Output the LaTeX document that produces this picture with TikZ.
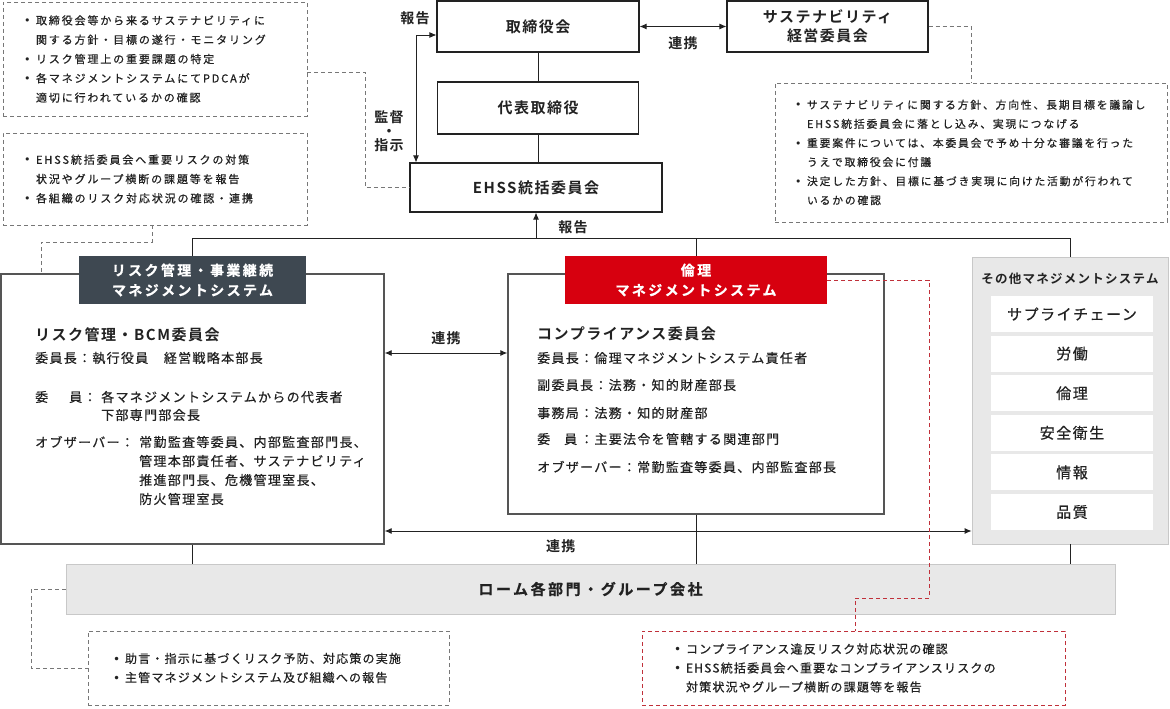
\documentclass[tikz,border=0pt]{standalone}
\usepackage{fontspec}
\setmainfont{Noto Sans CJK JP}[BoldFont={Noto Sans CJK JP Bold}]
\newfontfamily\jpa{Noto Sans CJK JP}[LetterSpace=10,BoldFont={Noto Sans CJK JP Bold}]
\newfontfamily\jpm{Noto Sans CJK JP}[LetterSpace=10,FakeBold=0.6]
\newfontfamily\jpb{Noto Sans CJK JP}[LetterSpace=17,FakeBold=0.6,BoldFont={Noto Sans CJK JP Bold}]
\newfontfamily\dotfont{DejaVu Sans}
\usetikzlibrary{arrows.meta}

\definecolor{ink}{HTML}{222222}
\definecolor{sysline}{HTML}{555555}
\definecolor{slate}{HTML}{3E4851}
\definecolor{ethred}{HTML}{D7000F}
\definecolor{panel}{HTML}{E8E8E8}
\definecolor{panelline}{HTML}{C8C8C8}
\definecolor{dashgray}{HTML}{777777}
\definecolor{dashred}{HTML}{C0303A}

\newcommand{\itm}{\makebox[12pt][l]{\dotfont\textbullet}}
\newcommand{\cont}{\hspace*{12pt}}

\tikzset{
  unit/.style={draw=ink, line width=1.1pt, fill=white, text=ink, align=center,
    inner sep=0pt, font=\jpa\bfseries\fontsize{15}{19}\selectfont},
  sysbox/.style={draw=sysline, line width=1.4pt, fill=white, inner sep=0pt},
  syshead/.style={inner sep=0pt, text=white, align=center,
    font=\jpb\bfseries\fontsize{14}{20}\selectfont},
  panelbox/.style={draw=panelline, line width=0.8pt, fill=panel, inner sep=0pt},
  itembox/.style={fill=white, inner sep=0pt, minimum width=162, minimum height=36,
    text=ink, font=\jpm\fontsize{15}{18}\selectfont},
  note/.style={draw=dashgray, line width=0.8pt, dash pattern=on 4pt off 3pt,
    inner ysep=0pt, align=left, text=ink, font=\jpb\fontsize{11}{19.3}\selectfont},
  rednote/.style={note, draw=dashred},
  link/.style={draw=dashgray, line width=0.8pt, dash pattern=on 4pt off 3pt},
  redlink/.style={link, draw=dashred},
  wire/.style={draw=ink, line width=0.9pt},
  arr/.style={wire, {Latex[length=7pt,width=6pt]}-{Latex[length=7pt,width=6pt]}},
  lbl/.style={inner sep=0pt, text=ink, align=center, font=\jpa\bfseries\fontsize{14}{16}\selectfont},
  title/.style={anchor=west, inner sep=0pt, text=ink, font=\jpa\bfseries\fontsize{15}{18}\selectfont},
  body/.style={anchor=west, inner sep=0pt, text=ink, font=\jpm\fontsize{13}{16}\selectfont},
}

\begin{document}
\begin{tikzpicture}[x=1pt,y=-1pt]
\useasboundingbox[fill=white] (0,0) rectangle (1170,709);

% top of the organisation
\node[unit, minimum width=202, minimum height=51] (board) at (538,26.5) {取締役会};
\node[unit, minimum width=201, minimum height=52] (pres) at (538,108) {代表取締役};
\node[unit, minimum width=252, minimum height=49] (ehss) at (536,187.5) {EHSS統括委員会};
\node[unit, minimum width=201, minimum height=51] (sus) at (827.5,26.5)
  {サステナビリティ\\経営委員会};

\draw[wire] (board.south) -- (pres.north);
\draw[wire] (pres.south) -- (pres.south |- ehss.north);
\draw[arr] (board) -- (sus) node[lbl, midway, yshift=-17] (suslink) {連携};

\coordinate (kan) at (416,35);
\draw[arr] (board.west |- kan) -- (kan) -- (kan |- ehss.north);
\node[lbl] (hokoku1) at (415,18) {報告};
\node[lbl, font=\jpa\bfseries\fontsize{14}{14}\selectfont] (kantoku) at (389,131) {監督\\・\\指示};

% notes
\node[note, text width=262, inner xsep=21, minimum height=114] (note1) at (155,59)
  {\itm 取締役会等から来るサステナビリティに\\
   \cont 関する方針・目標の遂行・モニタリング\\
   \itm リスク管理上の重要課題の特定\\
   \itm 各マネジメントシステムにてPDCAが\\
   \cont 適切に行われているかの確認};
\node[note, text width=262, inner xsep=21, minimum height=92] (note2) at (155,179)
  {\itm EHSS統括委員会へ重要リスクの対策\\
   \cont 状況やグループ横断の課題等を報告\\
   \itm 各組織のリスク対応状況の確認・連携};
\node[note, text width=352, inner xsep=20, minimum height=139,
  font=\jpb\fontsize{10.8}{19.1}\selectfont] (note3) at (971,152.5)
  {\itm サステナビリティに関する方針、方向性、長期目標を議論し\\
   \cont EHSS統括委員会に落とし込み、実現につなげる\\
   \itm 重要案件については、本委員会で予め十分な審議を行った\\
   \cont うえで取締役会に付議\\
   \itm 決定した方針、目標に基づき実現に向けた活動が行われて\\
   \cont いるかの確認};

\coordinate (c1) at (365,72);
\draw[link] (note1.east |- c1) -- (c1) |- (ehss.west);
\draw[link] (sus.east) -| (note3.north);

% bus to the management systems
\coordinate (busL) at (192.5,238);
\coordinate (busR) at (1070,238);
\draw[wire] (busL) -- (busR);
\draw[wire, -{Latex[length=7pt,width=6pt]}] (ehss.south |- busL) -- (ehss.south);
\node[lbl] (hokoku2) at (573,227) {報告};

% risk management system
\node[sysbox, minimum width=383, minimum height=270] (risk) at (192.5,409) {};
\node[syshead, fill=slate, minimum width=227, minimum height=48] (riskhead) at (192.5,280)
  {リスク管理・事業継続\\マネジメントシステム};
\draw[wire] (busL) -- (riskhead.north);
\coordinate (c2) at (41,242);
\draw[link] (note2.south -| 152,0) |- (c2) -- (c2 |- risk.north);
\node[title] (rtitle) at (35,335) {リスク管理・BCM委員会};
\node[body] (r1) at (35,358) {委員長：執行役員　経営戦略本部長};
\node[body] (r2) at (35,397) {委\hspace{21pt}員：};
\node[body] (r2a) at (101,397) {各マネジメントシステムからの代表者};
\node[body] (r2b) at (101,415) {下部専門部会長};
\node[body] (r3) at (35,442) {オブザーバー：};
\node[body] (r3a) at (139,442) {常勤監査等委員、内部監査部門長、};
\node[body] (r3b) at (139,461) {管理本部責任者、サステナビリティ};
\node[body] (r3c) at (139,480) {推進部門長、危機管理室長、};
\node[body] (r3d) at (139,499) {防火管理室長};

% ethics management system
\node[sysbox, minimum width=376, minimum height=240] (ethics) at (696,394) {};
\node[syshead, fill=ethred, minimum width=262, minimum height=48] (ethhead) at (696,280)
  {倫理\\マネジメントシステム};
\draw[wire] (ethhead.north |- busL) -- (ethhead.north);
\node[title] (etitle) at (537,334) {コンプライアンス委員会};
\node[body] (e1) at (537,358) {委員長：倫理マネジメントシステム責任者};
\node[body] (e2) at (537,385) {副委員長：法務・知的財産部長};
\node[body] (e3) at (537,413) {事務局：法務・知的財産部};
\node[body] (e4) at (537,439) {委\hspace{14pt}員\hspace{3pt}：主要法令を管轄する関連部門};
\node[body] (e5) at (537,467) {オブザーバー：常勤監査等委員、内部監査部長};

% other management systems
\node[panelbox, minimum width=196, minimum height=287] (other) at (1070,400.5) {};
\draw[wire] (busR) -- (other.north);
\node[inner sep=0pt, text=ink, font=\jpa\bfseries\fontsize{12.5}{15}\selectfont] (otitle)
  at (1070,279) {その他マネジメントシステム};
\foreach \name [count=\i] in {サプライチェーン,労働,倫理,安全衛生,情報,品質}
  \node[itembox] (item\i) at (1072,{314+(\i-1)*39.6}) {\name};

\draw[arr] (risk.east |- 0,353) -- (ethics.west |- 0,353)
  node[lbl, midway, yshift=15] (link1) {連携};
\draw[arr] (risk.east |- 0,531) -- (other.west |- 0,531)
  node[lbl, pos=0.3, yshift=-15] (link2) {連携};

% group companies
\node[panelbox, minimum width=1049, minimum height=50,
  text=ink, font=\jpb\bfseries\fontsize{15}{18}\selectfont] (rohm) at (590.5,589)
  {ローム各部門・グループ会社};
\draw[wire] (risk.south) -- (risk.south |- rohm.north);
\draw[wire] (ethics.south) -- (ethics.south |- rohm.north);
\draw[wire] (other.south) -- (other.south |- rohm.north);

% notes of the group companies
\node[note, text width=311, inner xsep=25, minimum height=74,
  font=\jpm\fontsize{12}{19}\selectfont] (note4) at (268.5,668)
  {\itm 助言・指示に基づくリスク予防、対応策の実施\\
   \itm 主管マネジメントシステム及び組織への報告};
\node[rednote, text width=359, inner xsep=32, minimum height=74,
  font=\jpm\fontsize{12}{19}\selectfont] (note5) at (853.5,668)
  {\itm コンプライアンス違反リスク対応状況の確認\\
   \itm EHSS統括委員会へ重要なコンプライアンスリスクの\\
   \cont 対策状況やグループ横断の課題等を報告};

\coordinate (c4) at (31,589);
\draw[link] (rohm.west) -- (c4) |- (note4.west);
\coordinate (c5a) at (929,598);
\coordinate (c5b) at (855,598);
\draw[redlink] (ethhead.east) -| (c5a) -- (c5b) -- (c5b |- note5.north);

\end{tikzpicture}
\end{document}
